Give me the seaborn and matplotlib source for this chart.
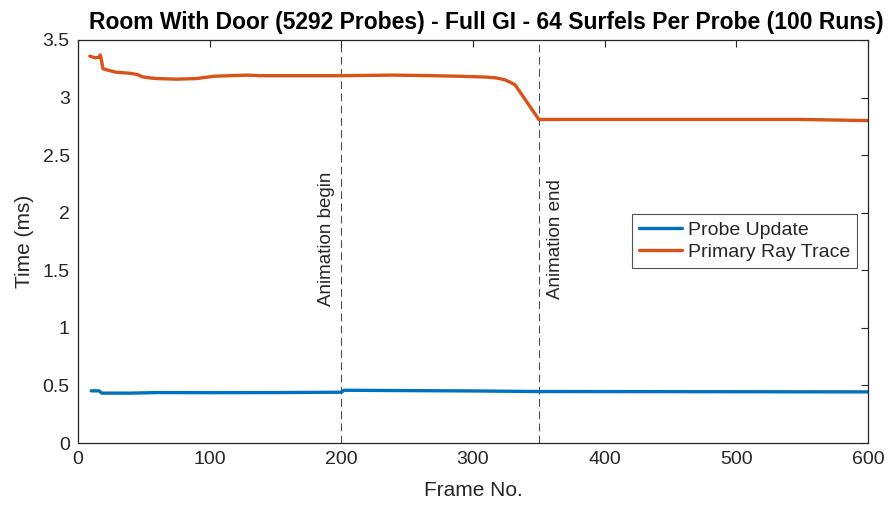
import matplotlib
matplotlib.use("Agg")
import matplotlib.pyplot as plt
import seaborn as sns
import pandas as pd

# ---- data ----
orange_frames = [9, 13, 16, 17, 19, 22, 29, 35, 40, 45, 49, 55, 60, 75, 90, 103, 128, 138,
                 170, 200, 239, 270, 290, 310, 318, 324, 328, 332, 350, 400, 450, 500, 550, 600]
orange_times = [3.36, 3.345, 3.35, 3.37, 3.25, 3.24, 3.22, 3.215, 3.21, 3.20, 3.18, 3.17, 3.165,
                3.16, 3.165, 3.185, 3.195, 3.19, 3.19, 3.19, 3.195, 3.19, 3.185, 3.178, 3.17,
                3.155, 3.135, 3.11, 2.81, 2.81, 2.81, 2.81, 2.81, 2.80]

blue_frames = [10, 16, 18, 40, 60, 100, 150, 200, 202, 250, 300, 350, 450, 600]
blue_times = [0.453, 0.453, 0.433, 0.433, 0.438, 0.437, 0.438, 0.441, 0.458, 0.455, 0.452,
              0.447, 0.446, 0.444]

series_names = ["Probe Update", "Primary Ray Trace"]
series_colors = ["#0072BD", "#D95319"]
event_frames = [200, 350]
event_labels = ["Animation begin", "Animation end"]

title = "Room With Door (5292 Probes) - Full GI - 64 Surfels Per Probe (100 Runs)"
x_ticks = [0, 100, 200, 300, 400, 500, 600]
y_ticks = [0, 0.5, 1, 1.5, 2, 2.5, 3, 3.5]

df = pd.concat([
    pd.DataFrame({"frame": blue_frames, "time": blue_times, "series": series_names[0]}),
    pd.DataFrame({"frame": orange_frames, "time": orange_times, "series": series_names[1]}),
], ignore_index=True)

sns.set_style("white")
plt.rcParams["font.family"] = ["Liberation Sans", "DejaVu Sans"]

fig = plt.figure(figsize=(8.94, 5.09), dpi=100)
ax = fig.add_axes([78 / 894, 1 - 443 / 509, 790 / 894, 403 / 509])

sns.lineplot(data=df, x="frame", y="time", hue="series", palette=series_colors,
             hue_order=series_names, estimator=None, sort=False, linewidth=2.4, ax=ax)

for f in event_frames:
    ax.axvline(f, color="#4d4d4d", linestyle=(0, (7, 4)), linewidth=0.8, zorder=0)

ax.text(195.5, 1.77, event_labels[0], rotation=90, ha="right", va="center",
        fontsize=13.5, color="#262626")
ax.text(356, 1.77, event_labels[1], rotation=90, ha="left", va="center",
        fontsize=13.5, color="#262626")

ax.set_xlim(0, 600)
ax.set_ylim(0, 3.5)
ax.set_xticks(x_ticks)
ax.set_yticks(y_ticks)
ax.set_yticklabels([f"{v:g}" for v in y_ticks])
ax.tick_params(direction="in", length=5, width=0.8, colors="#262626", labelsize=14,
               top=True, right=True, pad=6)
for s in ax.spines.values():
    s.set_visible(True)
    s.set_color("#262626")
    s.set_linewidth(0.9)

ax.set_xlabel("Frame No.", fontsize=15, color="#262626", labelpad=9)
ax.set_ylabel("Time (ms)", fontsize=15, color="#262626", labelpad=6)
ax.set_title(title, fontsize=16.5, fontweight="bold", color="black", pad=8,
             x=(486 - 78) / 790)

leg = ax.legend(loc="upper right", bbox_to_anchor=(0.986, 0.568), borderaxespad=0,
                fontsize=14, frameon=True, fancybox=False, handlelength=2.2,
                handletextpad=0.3, borderpad=0.35, labelspacing=0.25, title=None)
leg.get_frame().set_edgecolor("#262626")
leg.get_frame().set_linewidth(0.8)
for line in leg.get_lines():
    line.set_linewidth(2.4)

fig.savefig("out.png", dpi=100)
